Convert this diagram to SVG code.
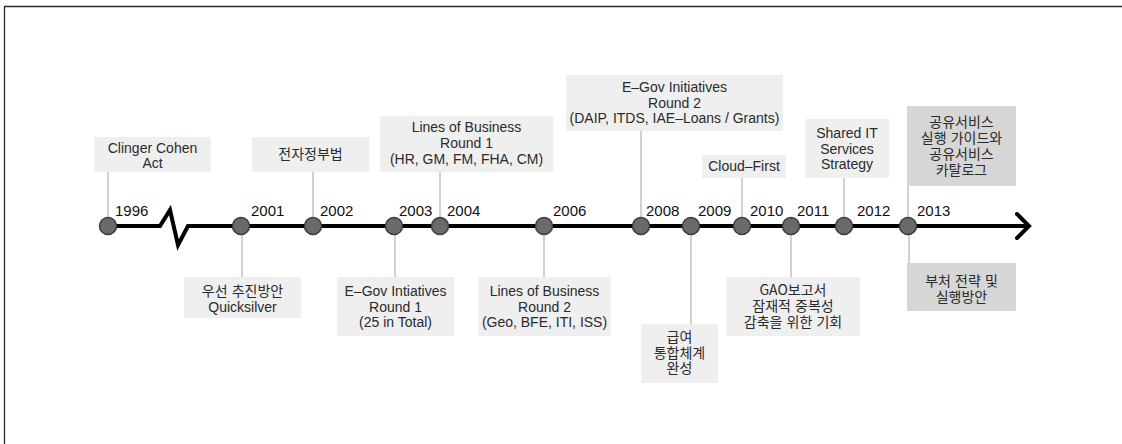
<svg xmlns="http://www.w3.org/2000/svg" width="1122" height="444" viewBox="0 0 1122 444">
  <style>
    .frame { fill: none; stroke: #2a2a2a; stroke-width: 1.3; }
    .axis { fill: none; stroke: #000; stroke-width: 4; stroke-linejoin: miter; }
    .arrow { fill: none; stroke: #000; stroke-width: 4; stroke-linecap: round; stroke-linejoin: miter; }
    .link { stroke: #c6c6c6; stroke-width: 1.6; fill: none; }
    .dot { fill: #6a6a6a; stroke: #3c3c3c; stroke-width: 1.5; }
    .year { font-family: "Liberation Sans", "Noto Sans CJK KR", sans-serif; font-size: 15px; fill: #111; }
    .box { fill: #efefef; }
    .box2 { fill: #d6d6d6; }
    .t { font-family: "Liberation Sans", "Noto Sans CJK KR", sans-serif; font-size: 14px; fill: #2a2a2a; text-anchor: middle; }
    .k { font-family: "Noto Sans CJK KR", "Liberation Sans", sans-serif; font-size: 14px; fill: #2a2a2a; text-anchor: middle; word-spacing: 1px; }
  </style>

  <!-- page frame -->
  <path class="frame" d="M4.5,444 V6.5 H1122"/>

  <!-- connectors between milestones and event labels -->
  <g id="connectors">
    <line class="link" x1="108" y1="172" x2="108" y2="226"/>
    <line class="link" x1="313" y1="172" x2="313" y2="226"/>
    <line class="link" x1="440" y1="172" x2="440" y2="226"/>
    <line class="link" x1="641" y1="131" x2="641" y2="226"/>
    <line class="link" x1="742" y1="178" x2="742" y2="226"/>
    <line class="link" x1="844" y1="178" x2="844" y2="226"/>
    <line class="link" x1="908" y1="186" x2="908" y2="226"/>
    <line class="link" x1="242" y1="226" x2="242" y2="277"/>
    <line class="link" x1="395" y1="226" x2="395" y2="277"/>
    <line class="link" x1="544" y1="226" x2="544" y2="277"/>
    <line class="link" x1="691" y1="226" x2="691" y2="324"/>
    <line class="link" x1="791" y1="226" x2="791" y2="277"/>
    <line class="link" x1="909" y1="226" x2="909" y2="263"/>
  </g>

  <!-- time axis with break mark and arrow -->
  <g id="axis">
    <path class="axis" d="M108,226 H160 L170,210 L178,245 L188,226 H1029"/>
    <path class="arrow" d="M1017,214 L1029,226 L1017,238"/>
  </g>

  <!-- year milestones -->
  <g id="y1996"><circle class="dot" cx="108" cy="226" r="8.5"/><text class="year" x="115" y="216">1996</text></g>
  <g id="y2001"><circle class="dot" cx="241" cy="226" r="8.5"/><text class="year" x="251" y="216">2001</text></g>
  <g id="y2002"><circle class="dot" cx="313" cy="226" r="8.5"/><text class="year" x="320" y="216">2002</text></g>
  <g id="y2003"><circle class="dot" cx="394" cy="226" r="8.5"/><text class="year" x="399" y="216">2003</text></g>
  <g id="y2004"><circle class="dot" cx="440" cy="226" r="8.5"/><text class="year" x="447" y="216">2004</text></g>
  <g id="y2006"><circle class="dot" cx="544" cy="226" r="8.5"/><text class="year" x="553" y="216">2006</text></g>
  <g id="y2008"><circle class="dot" cx="641" cy="226" r="8.5"/><text class="year" x="646" y="216">2008</text></g>
  <g id="y2009"><circle class="dot" cx="691" cy="226" r="8.5"/><text class="year" x="698" y="216">2009</text></g>
  <g id="y2010"><circle class="dot" cx="742" cy="226" r="8.5"/><text class="year" x="750" y="216">2010</text></g>
  <g id="y2011"><circle class="dot" cx="791" cy="226" r="8.5"/><text class="year" x="797" y="216">2011</text></g>
  <g id="y2012"><circle class="dot" cx="844" cy="226" r="8.5"/><text class="year" x="857" y="216">2012</text></g>
  <g id="y2013"><circle class="dot" cx="908" cy="226" r="8.5"/><text class="year" x="917" y="216">2013</text></g>

  <!-- events above the axis -->
  <g id="clinger-cohen">
    <rect class="box" x="94" y="137" width="117" height="35"/>
    <text class="t" x="152.5" y="153">Clinger Cohen</text>
    <text class="t" x="152.5" y="168">Act</text>
  </g>
  <g id="egov-act">
    <rect class="box" x="252" y="137" width="117" height="35"/>
    <text class="k" x="310.5" y="159">전자정부법</text>
  </g>
  <g id="lob-round1">
    <rect class="box" x="380" y="116" width="173" height="56"/>
    <text class="t" x="466.5" y="132">Lines of Business</text>
    <text class="t" x="466.5" y="148">Round 1</text>
    <text class="t" x="466.5" y="164">(HR, GM, FM, FHA, CM)</text>
  </g>
  <g id="egov-round2">
    <rect class="box" x="566" y="75" width="217" height="56"/>
    <text class="t" x="674.5" y="92">E–Gov Initiatives</text>
    <text class="t" x="674.5" y="107.5">Round 2</text>
    <text class="t" x="674.5" y="123">(DAIP, ITDS, IAE–Loans / Grants)</text>
  </g>
  <g id="cloud-first">
    <rect class="box" x="702" y="155" width="84" height="23"/>
    <text class="t" x="744" y="171">Cloud–First</text>
  </g>
  <g id="shared-it">
    <rect class="box" x="805" y="119" width="84" height="59"/>
    <text class="t" x="847" y="138">Shared IT</text>
    <text class="t" x="847" y="154">Services</text>
    <text class="t" x="847" y="169">Strategy</text>
  </g>
  <g id="shared-catalog">
    <rect class="box2" x="907" y="106" width="109" height="80"/>
    <text class="k" x="961.5" y="127">공유서비스</text>
    <text class="k" x="961.5" y="143">실행 가이드와</text>
    <text class="k" x="961.5" y="159">공유서비스</text>
    <text class="k" x="961.5" y="175">카탈로그</text>
  </g>

  <!-- events below the axis -->
  <g id="quicksilver">
    <rect class="box" x="184" y="277" width="117" height="41"/>
    <text class="k" x="242.5" y="296">우선 추진방안</text>
    <text class="t" x="242.5" y="312">Quicksilver</text>
  </g>
  <g id="egov-round1">
    <rect class="box" x="337" y="277" width="117" height="59"/>
    <text class="t" x="395.5" y="296">E–Gov Intiatives</text>
    <text class="t" x="395.5" y="312">Round 1</text>
    <text class="t" x="395.5" y="327">(25 in Total)</text>
  </g>
  <g id="lob-round2">
    <rect class="box" x="478" y="277" width="133" height="59"/>
    <text class="t" x="544.5" y="296">Lines of Business</text>
    <text class="t" x="544.5" y="312">Round 2</text>
    <text class="t" x="544.5" y="327">(Geo, BFE, ITI, ISS)</text>
  </g>
  <g id="payroll">
    <rect class="box" x="641" y="324" width="77" height="59"/>
    <text class="k" x="679.5" y="342">급여</text>
    <text class="k" x="679.5" y="358">통합체계</text>
    <text class="k" x="679.5" y="373">완성</text>
  </g>
  <g id="gao-report">
    <rect class="box" x="726" y="277" width="134" height="59"/>
    <text class="k" x="793" y="295">GAO보고서</text>
    <text class="k" x="793" y="311">잠재적 중복성</text>
    <text class="k" x="793" y="327">감축을 위한 기회</text>
  </g>
  <g id="agency-plan">
    <rect class="box2" x="907" y="263" width="109" height="48"/>
    <text class="k" x="961.5" y="286">부처 전략 및</text>
    <text class="k" x="961.5" y="302">실행방안</text>
  </g>
</svg>
